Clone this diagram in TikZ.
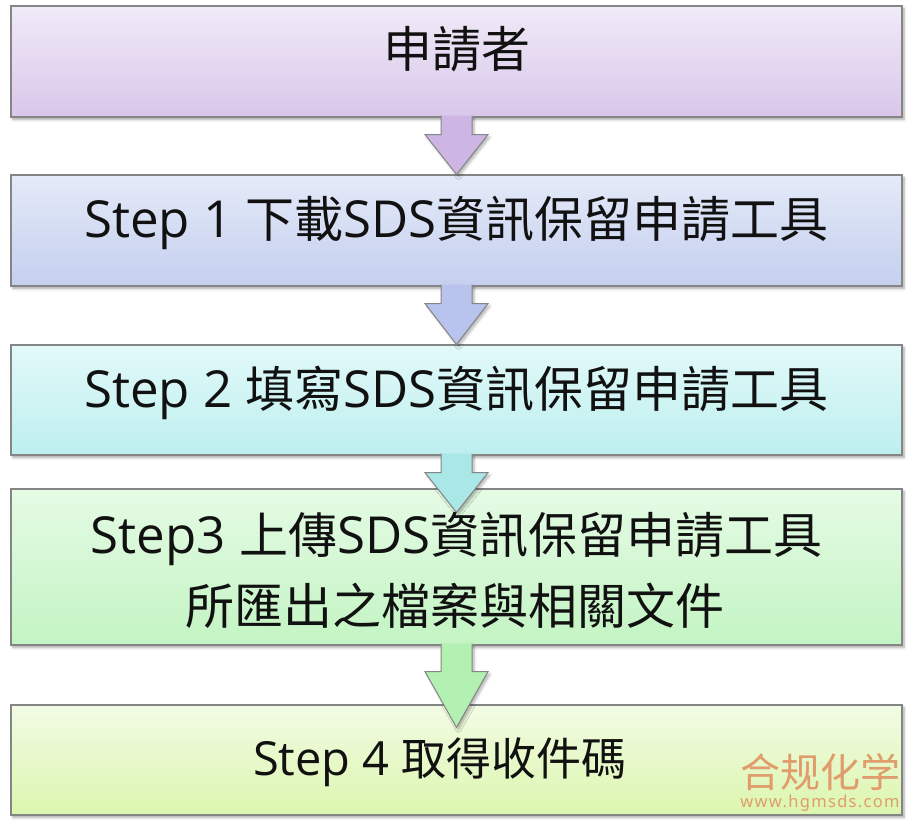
\documentclass[tikz,border=0pt]{standalone}
\usepackage{fontspec}
\usetikzlibrary{calc,shadows.blur}
\newfontfamily\cjkfont{Noto Sans CJK TC}
\newfontfamily\scfont{Noto Sans CJK SC}
\newfontfamily\latfont{Open Sans}
\newfontfamily\wmfont[LetterSpace=8]{Noto Sans}
\newcommand{\lat}[1]{{\latfont\fontsize{51}{60}\selectfont #1}}
\newcommand{\cjk}[1]{{\cjkfont\fontsize{49}{58}\selectfont #1}}
\newcommand{\lats}[1]{{\latfont\fontsize{47}{56}\selectfont #1}}
\newcommand{\cjks}[1]{{\cjkfont\fontsize{45}{54}\selectfont #1}}
\definecolor{edgegray}{HTML}{858585}
\definecolor{textblack}{HTML}{111111}
\definecolor{wmorange}{HTML}{E09C6C}
\definecolor{c1t}{HTML}{F0EAF8}\definecolor{c1b}{HTML}{D9C7EA}\definecolor{a1}{HTML}{CDB6E3}
\definecolor{c2t}{HTML}{E4EAF8}\definecolor{c2b}{HTML}{C5CFEF}\definecolor{a2}{HTML}{B8C3EE}
\definecolor{c3t}{HTML}{E2F9F9}\definecolor{c3b}{HTML}{BDEFEE}\definecolor{a3}{HTML}{AAE8E8}
\definecolor{c4t}{HTML}{E5FBE5}\definecolor{c4b}{HTML}{C3F4C3}\definecolor{a4}{HTML}{B2F1B2}
\definecolor{c5t}{HTML}{F2FBE4}\definecolor{c5b}{HTML}{DCF6AE}
\tikzset{
  stepbox/.style={draw=edgegray, line width=1.2pt, rectangle, minimum width=891pt, inner sep=0pt,
    blur shadow={shadow xshift=2pt, shadow yshift=-2.5pt, shadow blur steps=6, shadow opacity=35, shadow blur radius=2.5pt}},
  arrowshape/.style={draw=edgegray, line width=1pt, line join=miter,
    blur shadow={shadow xshift=2pt, shadow yshift=-2.5pt, shadow blur steps=6, shadow opacity=30, shadow blur radius=2.5pt}},
  txt/.style={anchor=base, inner sep=0pt, text=textblack},
  wmtxt/.style={anchor=base, inner sep=0pt, text=wmorange},
}
% #1 source node, #2 target node, #3 shaft length, #4 tip offset below target top, #5 colour
\newcommand{\flowarrow}[5]{%
  \path[arrowshape, fill=#5]
    ($(#1.south)+(-15.5,-2)$) -- ($(#1.south)+(-15.5,#3)$) -- ($(#1.south)+(-31.5,#3)$)
    -- ($(#2.north)+(0,#4)$)
    -- ($(#1.south)+(31.5,#3)$) -- ($(#1.south)+(15.5,#3)$) -- ($(#1.south)+(15.5,-2)$);
}
\begin{document}
\begin{tikzpicture}[x=1pt,y=-1pt]
\useasboundingbox (0,0) rectangle (912,823);
% boxes
\node[stepbox, minimum height=111pt, top color=c1t, bottom color=c1b] (b1) at (456.5,61.5) {};
\node[stepbox, minimum height=111pt, top color=c2t, bottom color=c2b] (b2) at (456.5,230.5) {};
\node[stepbox, minimum height=110pt, top color=c3t, bottom color=c3b] (b3) at (456.5,400) {};
\node[stepbox, minimum height=156pt, top color=c4t, bottom color=c4b] (b4) at (456.5,567) {};
\node[stepbox, minimum height=110pt, top color=c5t, bottom color=c5b] (b5) at (456.5,760) {};
% arrows
\flowarrow{b1}{b2}{17}{0}{a1}
\flowarrow{b2}{b3}{17}{0}{a2}
\flowarrow{b3}{b4}{17}{24}{a3}
\flowarrow{b4}{b5}{26}{23}{a4}
% texts
\node[txt] (t1) at (456.5,67) {\cjk{申請者}};
\node[txt] (t2) at (456.5,237) {\lat{Step 1 }\cjk{下載}\lat{SDS}\cjk{資訊保留申請工具}};
\node[txt] (t3) at (456.5,407) {\lat{Step 2 }\cjk{填寫}\lat{SDS}\cjk{資訊保留申請工具}};
\node[txt] (t4a) at (456.5,553) {\lat{Step3 }\cjk{上傳}\lat{SDS}\cjk{資訊保留申請工具}};
\node[txt] (t4b) at (454.5,624) {\cjk{所匯出之檔案與相關文件}};
\node[txt] (t5) at (440,775) {\lats{Step 4 }\cjks{取得收件碼}};
% watermark
\node[wmtxt] (wm1) at (820,787) {\scfont\fontsize{40}{48}\selectfont 合规化学};
\node[wmtxt] (wm2) at (820,807) {\wmfont\bfseries\fontsize{16.5}{19}\selectfont www.hgmsds.com};
\end{tikzpicture}
\end{document}
